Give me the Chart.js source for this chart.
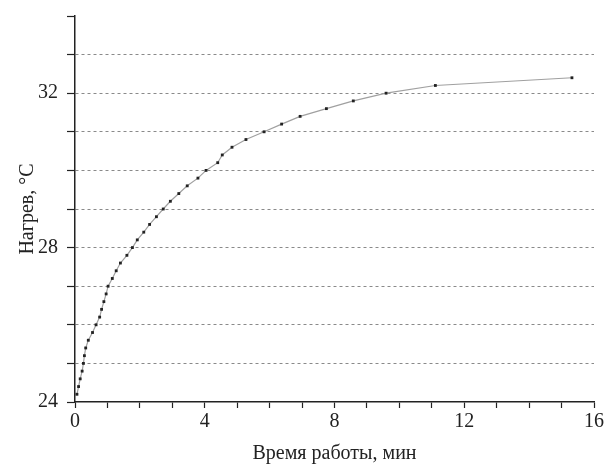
<!DOCTYPE html>
<html>
<head>
<meta charset="utf-8">
<script src="https://cdn.jsdelivr.net/npm/chart.js@4/dist/chart.umd.min.js"></script>
<style>
  html, body { margin: 0; padding: 0; background: #fff; }
  #wrap { width: 607px; height: 467px; position: relative; }
</style>
</head>
<body>
<div id="wrap"><canvas id="c" width="607" height="467"></canvas></div>
<script>
// Time of operation, min
const timeMin = [0.06, 0.11, 0.16, 0.22, 0.26, 0.29, 0.33, 0.41, 0.54, 0.65,
                 0.76, 0.82, 0.89, 0.96, 1.02, 1.15, 1.27, 1.40, 1.60, 1.77,
                 1.92, 2.12, 2.30, 2.51, 2.72, 2.94, 3.20, 3.46, 3.79, 4.04,
                 4.40, 4.54, 4.84, 5.27, 5.83, 6.37, 6.94, 7.75, 8.58, 9.59,
                 11.11, 15.32];
// Heating, °C
const heatC = [24.2, 24.4, 24.6, 24.8, 25.0, 25.2, 25.4, 25.6, 25.8, 26.0,
               26.2, 26.4, 26.6, 26.8, 27.0, 27.2, 27.4, 27.6, 27.8, 28.0,
               28.2, 28.4, 28.6, 28.8, 29.0, 29.2, 29.4, 29.6, 29.8, 30.0,
               30.2, 30.4, 30.6, 30.8, 31.0, 31.2, 31.4, 31.6, 31.8, 32.0,
               32.2, 32.4];
const xLabelTicks = [0, 4, 8, 12, 16];
const yLabelTicks = [24, 28, 32];
const xTitle = 'Время работы, мин';
const yTitle = 'Нагрев, °C';

const points = timeMin.map((t, i) => ({ x: t, y: heatC[i] }));
const font = { family: '"Liberation Serif", "DejaVu Serif", serif', size: 20 };

new Chart(document.getElementById('c'), {
  type: 'scatter',
  data: {
    datasets: [{
      data: points,
      showLine: true,
      borderColor: '#a0a0a0',
      borderWidth: 1.2,
      pointStyle: 'rect',
      pointRadius: 2,
      pointHoverRadius: 2,
      pointBackgroundColor: '#222',
      pointBorderWidth: 0,
      tension: 0
    }]
  },
  options: {
    responsive: false,
    animation: false,
    devicePixelRatio: 1,
    layout: { padding: { top: 16, right: 13, left: 0, bottom: 0 } },
    plugins: { legend: { display: false }, tooltip: { enabled: false } },
    scales: {
      x: {
        type: 'linear',
        min: 0, max: 16,
        afterFit: s => { s.height = 65; },
        ticks: {
          stepSize: 1,
          autoSkip: false,
          maxRotation: 0,
          color: '#222',
          font: font,
          padding: 2,
          callback: v => xLabelTicks.includes(v) ? String(v) : ''
        },
        grid: {
          drawOnChartArea: false,
          drawTicks: true,
          tickLength: 6,
          tickColor: '#222',
          tickWidth: 1.2
        },
        border: { color: '#222', width: 1.5 },
        title: {
          display: true,
          text: xTitle,
          color: '#222',
          font: font,
          padding: { top: 0, bottom: 1 }
        }
      },
      y: {
        type: 'linear',
        min: 24, max: 34,
        afterFit: s => { s.width = 75; s.paddingTop = 0; s.paddingBottom = 0; },
        ticks: {
          stepSize: 1,
          autoSkip: false,
          color: '#222',
          font: font,
          padding: 9,
          callback: v => yLabelTicks.includes(v) ? String(v) : ''
        },
        grid: {
          drawOnChartArea: true,
          drawTicks: true,
          tickLength: 8,
          tickColor: '#222',
          tickWidth: 1.2,
          lineWidth: 1,
          color: ctx => (ctx.tick && (ctx.tick.value === 24 || ctx.tick.value === 34)) ? 'rgba(0,0,0,0)' : '#8a8a8a'
        },
        border: { color: '#222', width: 1.5, dash: [3, 3] },
        title: {
          display: true,
          text: yTitle,
          color: '#222',
          font: font,
          padding: { top: 16, bottom: 0 }
        }
      }
    }
  }
});
</script>
</body>
</html>
